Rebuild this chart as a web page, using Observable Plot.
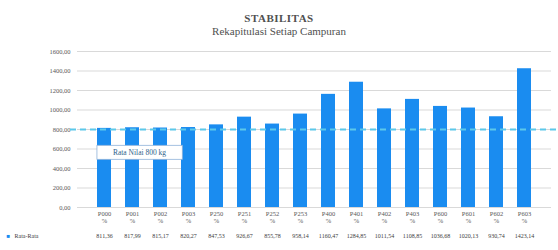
<!DOCTYPE html>
<html><head><meta charset="utf-8">
<script src="https://cdn.jsdelivr.net/npm/d3@7"></script>
<script src="https://cdn.jsdelivr.net/npm/@observablehq/plot@0.6"></script>
<style>
body{margin:0;background:#fff;width:558px;height:250px;overflow:hidden;font-family:"Liberation Serif","DejaVu Serif",serif;}
#t{height:42px;text-align:center;color:#505050;font-family:"Liberation Serif","DejaVu Serif",serif;}
#t1{font-weight:bold;font-size:11px;letter-spacing:0.5px;padding-top:12px;line-height:12px;}
#t2{font-size:11px;line-height:15px;font-family:"Liberation Serif","DejaVu Serif",serif;}
</style></head>
<body>
<div id="t"><div id="t1">STABILITAS</div><div id="t2">Rekapitulasi Setiap Campuran</div></div>
<div id="c"></div>
<script>
const categories = ["P000","P001","P002","P003","P250","P251","P252","P253","P400","P401","P402","P403","P600","P601","P602","P603"];
const values = [811.36,817.99,815.17,820.27,847.53,926.67,855.78,958.14,1160.47,1284.85,1011.54,1108.85,1036.68,1020.13,930.74,1423.14];
const yTicks = [0,200,400,600,800,1000,1200,1400,1600];
const refValue = 800;
const refLabel = "Rata Nilai 800 kg";
const seriesName = "Rata-Rata";

const fmt = v => v.toFixed(2).replace(".", ",");
const data = categories.map((c,i)=>({cat:c, v:values[i]}));
const blue = "#1a8cf0";
const gray = "#595959";

const chart = Plot.plot({
  width: 558, height: 208,
  marginLeft: 77, marginRight: 7, marginTop: 9, marginBottom: 43,
  style: {fontFamily: "Liberation Serif, serif", fontSize: "6.5px", color: gray, background: "transparent"},
  x: {domain: categories, padding: 0.5, label: null, tickSize: 0, tickPadding: 4,
      tickFormat: d => d + "\n%"},
  y: {domain: [0,1600], ticks: yTicks, tickFormat: fmt, label: null, tickSize: 0, tickPadding: 7},
  marks: [
    Plot.gridY(yTicks, {stroke: "#d9d9d9", strokeOpacity: 1}),
    Plot.barY(data, {x: "cat", y: "v", fill: blue}),
    Plot.ruleY([refValue], {stroke: "#5cc8ea", strokeWidth: 1.8, strokeDasharray: "6,4", insetLeft: -7, insetRight: -5}),
    Plot.text([{cat: categories[1], v: 565}], {x: "cat", y: "v", text: () => refLabel, dx: 7, fill: "#2e5f8a", fontSize: 7.5, className: "reflabel"}),
    Plot.text(data, {x: "cat", text: d => fmt(d.v), frameAnchor: "bottom", dy: 30, fill: "#404040", fontSize: 6}),
    Plot.text([seriesName], {frameAnchor: "bottom-left", dx: -63, dy: 30, textAnchor: "start", fill: "#404040", fontSize: 6}),
    Plot.text(["■"], {frameAnchor: "bottom-left", dx: -71, dy: 30, textAnchor: "start", fill: blue, fontSize: 6})
  ]
});
document.getElementById("c").appendChild(chart);
// box behind reference label
const g = chart.querySelector("g.reflabel");
if (g) {
  const t = g.querySelector("text");
  const bb = t.getBBox();
  const r = document.createElementNS("http://www.w3.org/2000/svg","rect");
  r.setAttribute("x", bb.x - 16); r.setAttribute("y", bb.y - 2.5);
  r.setAttribute("width", bb.width + 32); r.setAttribute("height", bb.height + 5);
  r.setAttribute("fill", "#fff"); r.setAttribute("stroke", "#8fb3d9"); r.setAttribute("stroke-width", "0.8");
  if (t.getAttribute("transform")) r.setAttribute("transform", t.getAttribute("transform"));
  g.insertBefore(r, t);
}
</script>
</body></html>
